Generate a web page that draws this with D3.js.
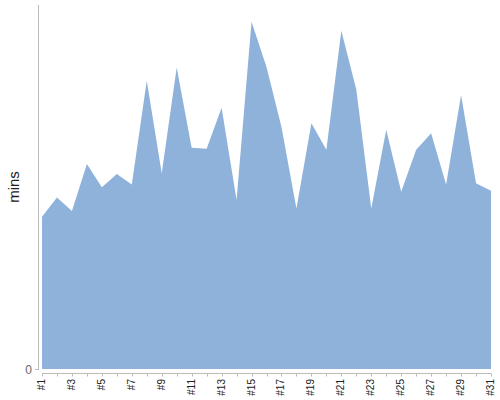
<!DOCTYPE html>
<html><head><meta charset="utf-8">
<script src="https://cdn.jsdelivr.net/npm/d3@7"></script>
<style>body{margin:0;background:#fff}svg{display:block;font-family:"Liberation Sans",Arial,sans-serif}</style>
</head><body>
<svg id="c" width="500" height="400"></svg>
<script>
const categories = d3.range(1, 32).map(i => "#" + i);
const minutes = [41.8,47.1,43.4,56.3,49.9,53.6,50.7,79.2,53.8,82.8,60.8,60.5,71.8,46.4,95.4,83.0,66.5,44.1,67.5,60.2,92.9,76.8,44.1,65.7,48.7,60.2,64.8,50.7,75.3,51.0,49.0];
const yTicks = [0];
const yLabel = "mins";

const svg = d3.select("#c");
const x = d3.scalePoint().domain(categories).range([42, 491]);
const y = d3.scaleLinear().domain([0, 100]).range([369, 5]);

const data = categories.map((c, i) => ({c, v: minutes[i]}));

svg.append("path").datum(data)
  .attr("fill", "#8fb2da")
  .attr("d", d3.area().x(d => x(d.c)).y0(y(0)).y1(d => y(d.v)));

// y axis
svg.append("line").attr("x1", 38.5).attr("x2", 38.5).attr("y1", 5).attr("y2", 370)
  .attr("stroke", "#bbb");
yTicks.forEach(t => {
  svg.append("line").attr("x1", 35).attr("x2", 38.5).attr("y1", y(t) + 0.5).attr("y2", y(t) + 0.5).attr("stroke", "#bbb");
  svg.append("text").attr("x", 32).attr("y", y(t) + 4.5).attr("text-anchor", "end")
    .attr("font-size", 12).attr("fill", "#666").text(t);
});
svg.append("text").attr("transform", "translate(19,187) rotate(-90)")
  .attr("text-anchor", "middle").attr("font-size", 15).attr("fill", "#222").text(yLabel);

// x axis
const gx = svg.append("g").attr("transform", "translate(0,373.5)");
gx.append("line").attr("x1", x(categories[0])).attr("x2", x(categories[30])).attr("stroke", "#bbb");
gx.selectAll(".tk").data(categories).join("line")
  .attr("x1", d => Math.round(x(d)) + 0.5).attr("x2", d => Math.round(x(d)) + 0.5)
  .attr("y1", 0).attr("y2", 3).attr("stroke", "#bbb");
gx.selectAll("text").data(categories.filter((d, i) => i % 2 === 0)).join("text")
  .attr("transform", d => `translate(${x(d) + 3},5.5) rotate(-90)`)
  .attr("text-anchor", "end").attr("font-size", 10).attr("fill", "#222").text(d => d);
</script>
</body></html>
